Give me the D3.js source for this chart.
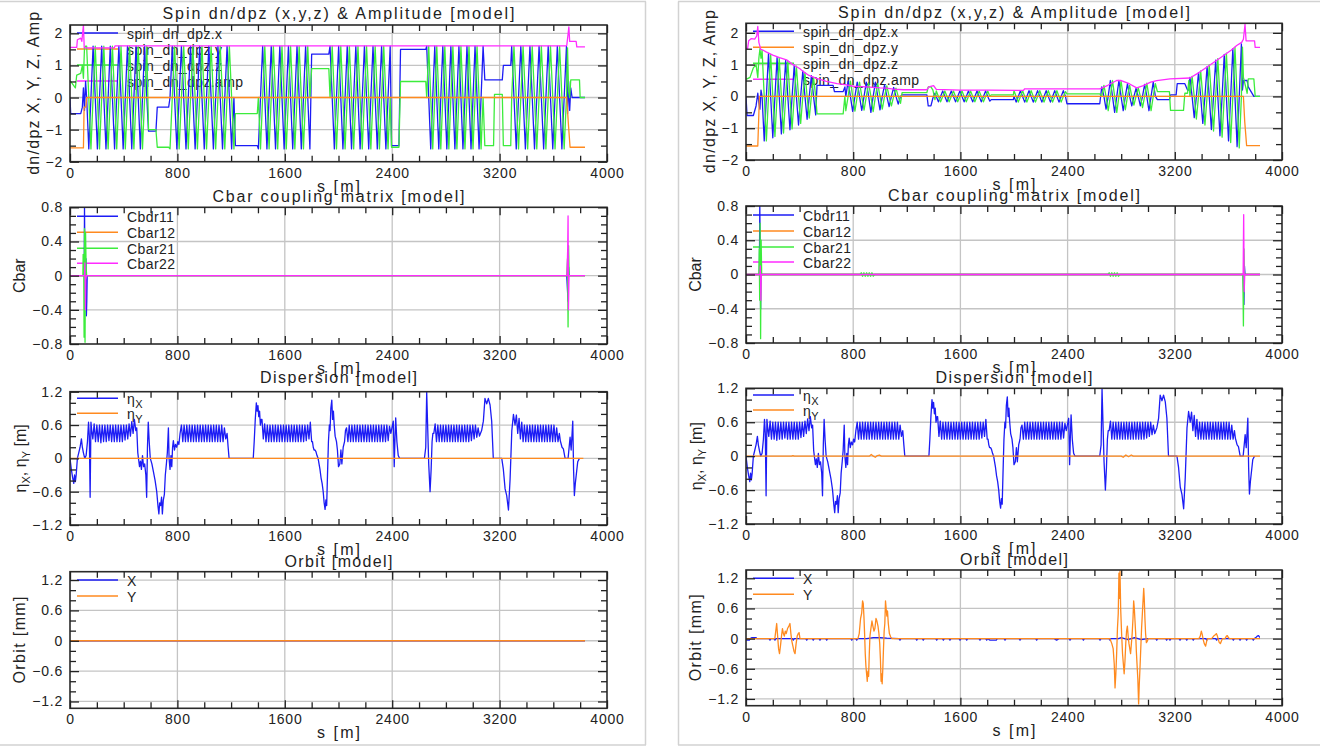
<!DOCTYPE html>
<html><head><meta charset="utf-8">
<script src="https://cdn.jsdelivr.net/npm/d3@7"></script>
<style>
html,body{margin:0;padding:0;background:#fff;}
svg{display:block;}
</style></head><body>
<svg id="c" width="1330" height="751"></svg>
<script>
// ---------------- tick / label data ----------------
const xMajor = [0,800,1600,2400,3200,4000];
const xMinor = [200,400,600,1000,1200,1400,1800,2000,2200,2600,2800,3000,3400,3600,3800];
const spinMajor = [-2,-1,0,1,2];
const spinMinor = [-1.5,-0.5,0.5,1.5];
const cbarMajor = [-0.8,-0.4,0,0.4,0.8];
const cbarMinor = [-0.7,-0.6,-0.5,-0.3,-0.2,-0.1,0.1,0.2,0.3,0.5,0.6,0.7];
const dispMajor = [-1.2,-0.6,0,0.6,1.2];
const dispMinor = [-1.0,-0.8,-0.4,-0.2,0.2,0.4,0.8,1.0];
const orbitMajor = [-1.2,-0.6,0,0.6,1.2];
const orbitMinor = [-1.0,-0.8,-0.4,-0.2,0.2,0.4,0.8,1.0];
const titles = ["Spin dn/dpz (x,y,z) & Amplitude [model]","Cbar coupling matrix [model]","Dispersion [model]","Orbit [model]"];
const spinLegend = ["spin_dn_dpz.x","spin_dn_dpz.y","spin_dn_dpz.z","spin_dn_dpz.amp"];
const cbarLegend = ["Cbdr11","Cbar12","Cbar21","Cbar22"];
const xTitle = "s [m]";

// ---------------- spin (left) rows: [s, x, z] ----------------
const spinL_xz = [
 [0,0,0.5],[5,-0.5,0.5],[40,-0.5,0.3],[50,-0.5,0.7],[80,-0.5,0.75],[92,-0.3,1.0],[100,0.3,0.6],[108,-0.4,1.55],[116,0.5,1.6],
 [124,0,1.6],[140,-1.6,0],[156,0,-1.6],[172,1.6,0],[188,0,1.6],[204,-1.6,0],[220,0,-1.6],[236,1.6,0],[252,0,1.6],[268,-1.6,0],[284,0,-1.6],[300,1.6,0],[316,0,1.6],[332,-1.6,0],[348,0,-1.6],[364,1.6,0],[380,0,1.6],[396,-1.6,0],[412,0,-1.6],[428,1.6,0],[444,0,1.6],[460,-1.6,0],[476,0,-1.6],[492,1.6,0],[508,0,1.6],[524,-1.6,0],[540,0,-1.6],[556,1.6,0],[572,0,1.6],
 [585,-1.05,-1.0],[640,-1.05,-1.0],[650,-0.3,-1.55],[735,-0.3,-1.55],
 [745,0,-1.6],[762,1.6,0],[779,0,1.6],[796,-1.6,0],[813,0,-1.6],[830,1.6,0],[847,0,1.6],[864,-1.6,0],[881,0,-1.6],[898,1.6,0],[915,0,1.6],[932,-1.6,0],[949,0,-1.6],[966,1.6,0],[983,0,1.6],[1000,-1.6,0],[1017,0,-1.6],[1034,1.6,0],[1051,0,1.6],[1068,-1.6,0],[1085,0,-1.6],[1102,1.6,0],[1119,0,1.6],[1136,-1.6,0],[1153,0,-1.6],[1170,1.6,0],[1187,0,1.6],[1204,-1.6,0],[1221,0,-1.6],
 [1232,-1.5,-0.5],[1395,-1.5,-0.5],
 [1403,-1.6,0],[1419,0,-1.6],[1435,1.6,0],[1451,0,1.6],[1467,-1.6,0],[1483,0,-1.6],[1499,1.6,0],[1515,0,1.6],[1531,-1.6,0],[1547,0,-1.6],[1563,1.6,0],[1579,0,1.6],[1595,-1.6,0],[1611,0,-1.6],[1627,1.6,0],[1643,0,1.6],[1659,-1.6,0],[1675,0,-1.6],[1691,1.6,0],[1707,0,1.6],[1723,-1.6,0],[1739,0,-1.6],[1755,1.6,0],[1771,0,1.6],[1787,-1.6,0],
 [1800,1.35,0.9],[1928,1.35,0.9],
 [1937,1.6,0],[1953,0,1.6],[1969,-1.6,0],[1985,0,-1.6],[2001,1.6,0],[2017,0,1.6],[2033,-1.6,0],[2049,0,-1.6],[2065,1.6,0],[2081,0,1.6],[2097,-1.6,0],[2113,0,-1.6],[2129,1.6,0],[2145,0,1.6],[2161,-1.6,0],[2177,0,-1.6],[2193,1.6,0],[2209,0,1.6],[2225,-1.6,0],[2241,0,-1.6],[2257,1.6,0],[2273,0,1.6],[2289,-1.6,0],[2305,0,-1.6],[2321,1.6,0],[2337,0,1.6],[2353,-1.6,0],[2369,0,-1.6],[2385,1.6,0],
 [2395,-1.5,-1.55],[2450,-1.5,-1.55],[2462,1.5,0.5],[2650,1.5,0.5],
 [2657,1.6,0],[2672,0,1.6],[2687,-1.6,0],[2702,0,-1.6],[2717,1.6,0],[2732,0,1.6],[2747,-1.6,0],[2762,0,-1.6],[2777,1.6,0],[2792,0,1.6],[2807,-1.6,0],[2822,0,-1.6],[2837,1.6,0],[2852,0,1.6],[2867,-1.6,0],[2882,0,-1.6],[2897,1.6,0],[2912,0,1.6],[2927,-1.6,0],[2942,0,-1.6],[2957,1.6,0],[2972,0,1.6],[2987,-1.6,0],[3002,0,-1.6],[3017,1.6,0],[3032,0,1.6],[3047,-1.6,0],[3062,0,-1.6],[3077,1.6,0],
 [3090,0.55,-1.5],[3155,0.55,-1.5],[3162,0.55,0.1],[3220,0.55,0.1],[3228,1.0,-1.5],[3283,1.0,-1.5],
 [3290,1.6,0],[3307,0,1.6],[3324,-1.6,0],[3341,0,-1.6],[3358,1.6,0],[3375,0,1.6],[3392,-1.6,0],[3409,0,-1.6],[3426,1.6,0],[3443,0,1.6],[3460,-1.6,0],[3477,0,-1.6],[3494,1.6,0],[3511,0,1.6],[3528,-1.6,0],[3545,0,-1.6],[3562,1.6,0],[3579,0,1.6],[3596,-1.6,0],[3613,0,-1.6],[3630,1.6,0],[3647,0,1.6],[3664,-1.6,0],[3681,0,-1.6],[3698,1.6,0],
 [3706,-0.5,1.55],[3714,0.5,0.2],[3722,-0.4,0],[3730,0.3,0.55],[3740,0,0.55],[3795,0,0.55],[3800,0,0],[3836,0,0]
];
const spinL_y = [[0,-1.57],[100,-1.57],[105,-0.3],[118,-0.3],[124,0],[3700,0],[3712,-0.8],[3725,-1.55],[3836,-1.55]];
const spinL_amp = [[0,1.56],[50,1.56],[55,1.8],[80,1.85],[88,1.75],[100,2.25],[106,1.55],[330,1.55],[336,1.61],[3690,1.61],[3700,1.62],[3708,1.9],[3716,2.2],[3722,1.75],[3770,1.75],[3775,1.58],[3836,1.58]];

// ---------------- spin (right) rows: [s, x, z] ----------------
const spinR_xz = [
 [0,0,0.55],[8,-0.6,0.55],[30,-0.6,0.6],[55,-0.6,0.9],[75,-0.3,1.0],[88,0.1,0.6],[96,-0.2,1.2],[104,-0.4,1.5],[112,0.2,1.2],
 [120,0,1.45],[136,-1.4,0],[152,0,-1.4],[168,1.35,0],[184,0,1.32],[200,-1.3,0],[216,0,-1.26],[232,1.22,0],[248,0,1.2],[264,-1.18,0],[280,0,-1.15],[296,1.13,0],[312,0,1.1],[328,-1.05,0],[344,0,-1.02],[360,0.98,0],[376,0,0.95],[392,-0.9,0],[408,0,-0.85],[424,0.8,0],[440,0,0.75],[456,-0.72,0],[472,0,-0.68],[488,0.65,0],[504,0,0.6],[520,-0.58,0],
 [530,0.35,-0.55],[650,0.35,-0.55],[660,0.15,-0.55],[725,0.15,-0.55],[738,0.3,0],
 [745,0,-0.45],[762,0.48,0],[779,0,0.48],[796,-0.47,0],[813,0,-0.46],[830,0.45,0],[847,0,0.45],[864,-0.44,0],[881,0,-0.43],[898,0.45,0],[915,0,0.42],[932,-0.5,0],[949,0,-0.48],[966,0.45,0],[983,0,0.4],[1000,-0.42,0],[1017,0,-0.4],[1034,0.36,0],[1051,0,0.33],[1068,-0.32,0],[1085,0,-0.3],[1102,0.28,0],[1119,0,0.26],[1136,-0.24,0],[1153,0,-0.22],
 [1165,0.05,0.12],[1350,0.05,0.12],[1360,-0.3,0.3],[1380,-0.3,0.3],[1395,-0.05,0.2],[1410,0.1,-0.1],
 [1420,0,0.17],[1436,-0.17,0],[1452,0,-0.17],[1468,0.17,0],[1484,0,0.17],[1500,-0.17,0],[1516,0,-0.17],[1532,0.17,0],[1548,0,0.17],[1564,-0.17,0],[1580,0,-0.17],[1596,0.17,0],[1612,0,0.17],[1628,-0.17,0],[1644,0,-0.17],[1660,0.17,0],[1676,0,0.17],[1692,-0.17,0],[1708,0,-0.17],[1724,0.17,0],[1740,0,0.17],[1756,-0.17,0],[1772,0,-0.17],[1788,0.17,0],[1804,0,0.17],[1820,-0.15,0],
 [1830,-0.1,0.05],[1995,-0.1,0.05],
 [2000,0,0.18],[2016,-0.18,0],[2032,0,-0.18],[2048,0.18,0],[2064,0,0.18],[2080,-0.18,0],[2096,0,-0.18],[2112,0.18,0],[2128,0,0.18],[2144,-0.18,0],[2160,0,-0.18],[2176,0.18,0],[2192,0,0.18],[2208,-0.18,0],[2224,0,-0.18],[2240,0.18,0],[2256,0,0.18],[2272,-0.18,0],[2288,0,-0.18],[2304,0.18,0],[2320,0,0.18],[2336,-0.18,0],[2352,0,-0.18],[2368,0.18,0],[2384,0,0.15],
 [2395,-0.23,0.08],[2640,-0.23,0.08],
 [2655,0.3,0],[2671,0,0.35],[2687,-0.4,0],[2703,0,-0.45],[2719,0.5,0],[2735,0,0.5],[2751,-0.5,0],[2767,0,-0.5],[2783,0.5,0],[2799,0,0.48],[2815,-0.45,0],[2831,0,-0.42],[2847,0.4,0],[2863,0,0.35],[2879,-0.3,0],[2895,0,-0.27],[2911,0.25,0],[2927,0,0.27],[2943,-0.3,0],[2959,0,-0.35],[2975,0.38,0],[2991,0,0.42],[3007,-0.45,0],[3023,0,-0.45],[3039,0.45,0],[3055,0,0.4],
 [3070,-0.1,0.15],[3160,-0.1,0.15],[3168,0.05,-0.44],[3210,0.05,-0.44],[3218,0.4,-0.44],[3265,0.4,-0.44],[3275,0.4,0.1],[3295,0.2,0.1],[3305,0.2,0.5],
 [3313,0.6,0],[3329,0,0.63],[3345,-0.67,0],[3361,0,-0.71],[3377,0.75,0],[3393,0,0.8],[3409,-0.85,0],[3425,0,-0.9],[3441,0.94,0],[3457,0,0.99],[3473,-1.04,0],[3489,0,-1.09],[3505,1.14,0],[3521,0,1.19],[3537,-1.24,0],[3553,0,-1.28],[3569,1.32,0],[3585,0,1.36],[3601,-1.4,0],[3617,0,-1.45],[3633,1.5,0],[3649,0,1.54],[3665,-1.58,0],[3681,0,-1.62],[3697,1.65,0],
 [3705,0.2,1.55],[3712,0.5,0.6],[3740,0.5,0.1],[3748,0.3,0.55],[3790,0,0.55],[3800,0,0],[3836,0,0]
];
const spinR_y = [[0,-1.56],[88,-1.56],[94,-0.8],[100,0],[3712,0],[3722,-0.8],[3736,-1.55],[3836,-1.55]];
const spinR_amp = [[0,1.51],[12,1.51],[20,1.75],[40,1.82],[65,1.8],[80,1.9],[88,2.2],[96,1.7],[110,1.48],[125,1.46],[150,1.4],[200,1.3],[250,1.22],[303,1.15],[350,1.0],[400,0.88],[428,0.78],[470,0.66],[527,0.57],[600,0.47],[680,0.4],[751,0.36],[800,0.32],[900,0.3],[1000,0.27],[1050,0.26],[1100,0.23],[1174,0.21],[1350,0.21],[1365,0.3],[1400,0.34],[1420,0.22],[1600,0.2],[1821,0.2],[2070,0.19],[2080,0.24],[2640,0.24],[2700,0.35],[2766,0.5],[2800,0.5],[2860,0.4],[2915,0.27],[2960,0.33],[3020,0.45],[3065,0.5],[3164,0.55],[3313,0.58],[3380,0.75],[3438,0.92],[3500,1.1],[3562,1.28],[3620,1.45],[3662,1.6],[3699,1.7],[3712,1.8],[3724,2.27],[3732,1.75],[3795,1.75],[3800,1.54],[3836,1.54]];

// ---------------- Cbar ----------------
const cbarL_11 = [[0,0],[106,0],[108,0.8],[110,0.4],[113,0.45],[116,-0.1],[119,0.2],[122,-0.47],[125,-0.3],[128,0],[3700,0],[3710,-0.3],[3714,0.1],[3718,0],[3836,0]];
const cbarL_12 = [[0,0],[106,0],[110,0.08],[114,-0.05],[118,0],[3836,0]];
const cbarL_21 = [[0,0],[96,0],[98,0.25],[102,0.2],[105,-0.72],[108,0.55],[112,-0.78],[116,0.5],[120,0.1],[124,0],[3700,0],[3706,0.2],[3710,-0.6],[3714,0.35],[3718,0],[3836,0]];
const cbarL_22 = [[0,0],[108,0],[111,0.15],[115,-0.4],[118,-0.05],[122,0],[3702,0],[3707,0.3],[3710,0.7],[3713,-0.4],[3717,0],[3836,0]];
const cbarR_11 = [[0,0],[100,0],[103,0.8],[106,0.3],[109,-0.4],[112,0.1],[115,0],[3710,0],[3716,-0.35],[3720,0.1],[3724,0],[3836,0]];
const cbarR_12 = [[0,0],[104,0],[108,0.06],[112,-0.04],[116,0],[3836,0]];
const cbarR_21 = [[0,0],[96,0],[99,0.3],[102,-0.3],[105,0.6],[109,-0.75],[113,0.4],[117,0],[850,0],[860,0.02],[870,-0.02],[880,0.02],[890,-0.02],[900,0.02],[910,-0.02],[920,0.02],[930,-0.02],[940,0.02],[950,-0.02],[960,0],[2700,0],[2710,0.02],[2720,-0.02],[2730,0.02],[2740,-0.02],[2750,0.02],[2760,-0.02],[2770,0.02],[2780,-0.02],[2790,0],[3708,0],[3712,-0.6],[3716,0.3],[3720,0],[3836,0]];
const cbarR_22 = [[0,0],[104,0],[107,0.1],[111,-0.3],[114,0],[3710,0],[3714,0.7],[3718,-0.2],[3722,0],[3836,0]];

// ---------------- Dispersion ----------------
const etaX = [
 [0,0],[10,-0.2],[20,-0.35],[28,-0.45],[34,-0.3],[40,-0.42],[46,-0.3],[55,0],[65,0.1],[75,0.2],[85,0.35],[92,0.2],[100,0.1],[110,0],[120,0.05],[130,0.3],[138,0.65],[144,0.4],[150,-0.7],[156,0.65],[162,0.5],
 [170,0.35],[180,0.62],[190,0.3],[200,0.6],[210,0.3],[220,0.6],[230,0.28],[240,0.6],[250,0.3],[260,0.6],[270,0.3],[280,0.6],[290,0.32],[300,0.6],[310,0.3],[320,0.6],[330,0.3],[340,0.6],[350,0.3],[360,0.6],[370,0.3],[380,0.6],[390,0.3],[400,0.6],[410,0.33],[420,0.6],[430,0.35],[440,0.62],[450,0.4],[460,0.66],[470,0.45],[480,0.7],[490,0.5],
 [497,0.55],[505,0.1],[510,0],[518,-0.15],[525,-0.05],[532,-0.2],[540,0.05],[548,-0.15],[556,-0.1],[565,-0.3],[571,-0.7],[577,0.2],[583,0.65],[590,0.3],[598,0],[610,-0.1],[622,-0.25],[634,-0.4],[646,-0.6],[655,-0.85],[662,-1.0],[668,-0.8],[675,-0.85],[682,-0.7],[688,-1.0],[695,-0.75],[703,-0.65],[710,-0.3],[718,-0.1],[725,0.1],[733,0.55],[738,0],[745,-0.2],[752,0.05],[758,-0.15],[764,0.2],[770,0.32],[778,0.15],[786,0.25],[795,0.2],[803,0.3],[811,0.25],
 [820,0.45],[830,0.6],[840,0.3],[850,0.6],[860,0.3],[870,0.6],[880,0.3],[890,0.6],[900,0.3],[910,0.6],[920,0.3],[930,0.6],[940,0.3],[950,0.6],[960,0.3],[970,0.6],[980,0.3],[990,0.6],[1000,0.3],[1010,0.6],[1020,0.3],[1030,0.6],[1040,0.3],[1050,0.6],[1060,0.3],[1070,0.6],[1080,0.3],[1090,0.6],[1100,0.3],[1110,0.6],[1120,0.3],[1130,0.6],[1140,0.3],[1150,0.55],[1160,0.35],[1170,0.45],
 [1178,0.2],[1185,0],[1365,0],[1372,0.3],[1380,0.7],[1388,1.0],[1394,0.85],[1400,0.95],[1406,0.75],[1412,0.85],[1418,0.6],[1425,0.7],
 [1430,0.7],[1440,0.35],[1450,0.62],[1460,0.3],[1470,0.6],[1480,0.3],[1490,0.6],[1500,0.3],[1510,0.6],[1520,0.3],[1530,0.6],[1540,0.3],[1550,0.6],[1560,0.3],[1570,0.6],[1580,0.3],[1590,0.6],[1600,0.3],[1610,0.6],[1620,0.3],[1630,0.6],[1640,0.3],[1650,0.6],[1660,0.3],[1670,0.6],[1680,0.3],[1690,0.6],[1700,0.3],[1710,0.6],[1720,0.3],[1730,0.6],[1740,0.3],[1750,0.6],[1760,0.32],[1770,0.6],[1780,0.35],[1790,0.65],
 [1800,0.3],[1806,0.3],[1812,0.2],[1818,0.15],[1825,0.15],[1832,0.12],[1840,0.05],[1848,0],[1855,-0.1],[1862,-0.2],[1870,-0.35],[1878,-0.45],[1886,-0.6],[1893,-0.8],[1900,-0.92],[1906,-0.75],[1912,-0.85],[1918,-0.3],[1925,0.3],[1932,0.6],[1937,0.5],[1943,0.9],[1950,1.05],[1956,0.7],[1962,0.85],[1968,0.6],[1975,0.4],[1985,0.3],[1992,0.15],[2000,-0.15],[2010,-0.1],[2018,0.15],[2025,-0.1],[2035,0.2],[2045,0.3],[2052,0.5],
 [2060,0.55],[2070,0.3],[2080,0.6],[2090,0.3],[2100,0.6],[2110,0.3],[2120,0.6],[2130,0.3],[2140,0.6],[2150,0.3],[2160,0.6],[2170,0.3],[2180,0.6],[2190,0.3],[2200,0.6],[2210,0.3],[2220,0.6],[2230,0.3],[2240,0.6],[2250,0.3],[2260,0.6],[2270,0.3],[2280,0.6],[2290,0.3],[2300,0.6],[2310,0.3],[2320,0.6],[2330,0.3],[2340,0.6],[2350,0.3],[2360,0.6],[2370,0.32],[2380,0.58],[2390,0.45],
 [2398,0.55],[2408,0.67],[2415,-0.15],[2420,0.3],[2426,0.73],[2435,0.3],[2445,0.05],[2455,0],[2640,0],[2650,0.2],[2657,1.19],[2665,0.5],[2672,-0.1],[2682,-0.6],[2690,-0.2],[2697,0.3],[2703,0.45],
 [2710,0.45],[2720,0.62],[2730,0.3],[2740,0.6],[2750,0.3],[2760,0.6],[2770,0.3],[2780,0.6],[2790,0.3],[2800,0.6],[2810,0.3],[2820,0.6],[2830,0.3],[2840,0.6],[2850,0.3],[2860,0.6],[2870,0.3],[2880,0.6],[2890,0.3],[2900,0.6],[2910,0.3],[2920,0.6],[2930,0.3],[2940,0.6],[2950,0.3],[2960,0.6],[2970,0.3],[2980,0.6],[2990,0.32],[3000,0.6],[3010,0.35],[3020,0.6],[3030,0.38],[3040,0.55],[3050,0.4],
 [3058,0.45],[3066,0.5],[3079,0.67],[3091,1.08],[3104,0.98],[3116,1.08],[3129,0.96],[3141,0.67],[3153,0],[3216,0],[3228,-0.2],[3241,-0.55],[3253,-0.67],[3266,-0.93],[3278,-0.38],[3291,0.5],[3303,0.79],
 [3315,0.6],[3325,0.78],[3335,0.45],[3345,0.72],[3355,0.35],[3365,0.65],[3375,0.3],[3385,0.6],[3395,0.3],[3405,0.6],[3415,0.3],[3425,0.6],[3435,0.3],[3445,0.6],[3455,0.3],[3465,0.6],[3475,0.3],[3485,0.6],[3495,0.3],[3505,0.6],[3515,0.3],[3525,0.6],[3535,0.3],[3545,0.6],[3555,0.3],[3565,0.6],[3575,0.3],[3585,0.6],[3595,0.3],[3605,0.6],[3615,0.3],[3625,0.55],[3635,0.3],[3645,0.45],
 [3652,0.32],[3665,0.2],[3675,0.17],[3688,0],[3710,0],[3718,0.2],[3725,0.38],[3733,0.15],[3740,0.45],[3745,0.67],[3751,-0.2],[3757,-0.67],[3764,-0.45],[3770,-0.32],[3782,-0.06],[3795,0]
];
const etaY_L = [[0,0],[3824,0]];
const etaY_R = [[0,0],[340,0],[350,0.01],[360,0],[920,0],[935,0.03],[950,0],[965,-0.02],[980,0.01],[995,0.02],[1010,0],[2800,0],[2815,-0.02],[2835,0.02],[2855,-0.01],[2875,0.02],[2890,0],[3836,0]];

// ---------------- Orbit ----------------
const orbitL_x = [[0,0],[3836,0]];
const orbitL_y = [[0,0],[3836,0]];
const orbitR_x = [[0,-0.03],[25,-0.03],[32,0],[45,0.02],[75,0.02],[82,0],[172,0],[179,-0.03],[186,0],[209,0],[216,-0.03],[223,0],[346,0],[353,-0.03],[360,0],[446,0],[453,-0.03],[460,0],[495,0],[502,-0.03],[509,0],[545,0],[552,-0.03],[559,0],[595,0],[602,-0.03],[609,0],[782,0],[789,-0.03],[796,0],[819,0],[826,-0.03],[833,0],[900,0],[950,0.02],[1000,0.02],[1050,0.01],[1142,0],[1149,-0.03],[1156,0],[1267,0],[1274,-0.03],[1281,0],[1316,0],[1323,-0.03],[1330,0],[1416,0],[1423,-0.03],[1430,0],[1466,0],[1473,-0.03],[1480,0],[1515,0],[1522,-0.03],[1529,0],[1590,0],[1597,-0.03],[1604,0],[1640,0],[1647,-0.03],[1654,0],[1739,0],[1746,-0.03],[1753,0],[1789,0],[1796,-0.03],[1803,0],[1821,-0.03],[1868,-0.03],[1875,0],[1926,0],[1933,-0.03],[1940,0],[2038,0],[2045,-0.03],[2052,0],[2162,0],[2169,-0.03],[2176,0],[2300,0],[2318,-0.03],[2335,0],[2411,0],[2418,-0.03],[2425,0],[2511,0],[2518,-0.03],[2525,0],[2635,0],[2642,-0.03],[2649,0],[2709,0],[2716,-0.03],[2723,0],[2780,0],[2800,0.02],[2850,-0.02],[2900,0.02],[2950,-0.02],[3000,0],[3058,0],[3065,-0.03],[3072,0],[3132,0],[3139,-0.03],[3146,0],[3157,0],[3164,-0.03],[3171,0],[3232,0],[3239,-0.03],[3246,0],[3282,0],[3289,-0.03],[3296,0],[3331,0],[3338,-0.03],[3345,0],[3431,0],[3438,-0.03],[3445,0],[3505,0],[3512,-0.03],[3519,0],[3630,0],[3637,-0.03],[3644,0],[3680,0],[3687,-0.03],[3694,0],[3729,0],[3736,-0.03],[3743,0],[3779,0],[3786,-0.03],[3793,0],[3805,0.02],[3815,0.05],[3825,0.06],[3833,0.03],[3836,0.03]];
const orbitR_y = [[0,0],[215,0],[222,0.15],[229,0.3],[236,0.05],[243,-0.2],[250,-0.3],[257,-0.15],[265,0.05],[272,0.2],[279,0.1],[286,0.05],[293,0.15],[300,0.1],[310,0.2],[320,0.25],[328,0.3],[335,0.1],[342,-0.05],[350,-0.15],[358,-0.25],[366,-0.3],[374,-0.1],[382,0.05],[390,0.1],[396,0.12],[403,0],[835,0],[845,0.1],[855,0.4],[863,0.5],[870,0.75],[875,0.7],[880,0.45],[885,0.1],[890,-0.3],[895,-0.55],[900,-0.7],[905,-0.85],[910,-0.65],[915,-0.75],[920,-0.3],[925,0.05],[932,0.2],[940,0.35],[947,0.25],[955,0.15],[962,0.2],[970,0.4],[977,0.35],[985,0.25],[992,0.1],[998,-0.1],[1003,-0.4],[1008,-0.85],[1012,-0.7],[1016,-0.9],[1021,-0.6],[1026,-0.2],[1031,0.15],[1036,0.3],[1041,0.75],[1046,0.6],[1051,0.45],[1056,0.55],[1062,0.3],[1070,0.1],[1080,0.03],[1090,0],[2715,0],[2730,-0.1],[2740,-0.2],[2748,-0.5],[2754,-0.98],[2760,-0.7],[2766,-0.3],[2772,0.2],[2778,0.5],[2783,1.3],[2788,0.8],[2791,1.35],[2796,0.6],[2803,0.1],[2810,-0.3],[2816,-0.5],[2822,-0.7],[2828,-0.45],[2834,-0.1],[2840,0.15],[2846,0.25],[2852,0.05],[2858,-0.1],[2864,-0.2],[2870,-0.3],[2876,-0.1],[2882,0.1],[2888,0.4],[2893,0.75],[2898,0.6],[2903,0.35],[2908,0.1],[2913,-0.25],[2918,-0.5],[2924,-0.8],[2930,-1.3],[2935,-0.9],[2940,-0.6],[2946,-0.2],[2952,0.2],[2958,0.5],[2962,0.7],[2968,1.0],[2972,0.8],[2977,0.4],[2982,0.1],[2988,-0.08],[2995,-0.05],[3002,0],[3380,0],[3390,0.05],[3398,0.15],[3405,0.08],[3412,-0.02],[3420,-0.1],[3430,-0.15],[3438,-0.05],[3446,0],[3475,0],[3490,0.05],[3500,0.07],[3510,0.1],[3518,0.05],[3525,-0.02],[3532,-0.08],[3540,-0.1],[3548,-0.05],[3555,0],[3575,0],[3585,0.05],[3592,0.06],[3600,0.02],[3608,0],[3836,0]];

// ---------------- drawing ----------------
const COL = {blue:"#1c1cf5", orange:"#ff8a1f", green:"#3cec3c", pink:"#ff2bff"};
const FONT = '"Liberation Sans", Arial, Helvetica, sans-serif';
const TXT = "#222";
const svg = d3.select("#c");
svg.append("rect").attr("width",1330).attr("height",751).attr("fill","#fff");
let clipN = 0;
const col = (rows,i)=>rows.map(r=>[r[0],r[i]]);
const fmt1 = v => v===0 ? "0" : d3.format(".1f")(v);
const fmt0 = d3.format("d");

function rich(t, parts){
  let shift = 0;
  parts.forEach(pt=>{
    const ts = t.append("tspan").text(pt.t);
    const want = pt.sub ? 4 : 0;
    if(want!==shift){ ts.attr("dy", want-shift); shift = want; }
    if(pt.sub) ts.attr("font-size", 11);
  });
}

function paneFrame(x0,x1){
  const g = svg.append("g").attr("stroke","#d2d2d2").attr("stroke-width",1.5);
  g.append("line").attr("x1",x0).attr("x2",x1).attr("y1",1.5).attr("y2",1.5);
  g.append("line").attr("x1",x0).attr("x2",x1).attr("y1",745).attr("y2",745);
}
paneFrame(0,646);
paneFrame(678,1320);
svg.append("line").attr("x1",645.5).attr("x2",645.5).attr("y1",1.5).attr("y2",745).attr("stroke","#d2d2d2").attr("stroke-width",1.5);
svg.append("line").attr("x1",678.5).attr("x2",678.5).attr("y1",1.5).attr("y2",745).attr("stroke","#d2d2d2").attr("stroke-width",1.5);

function drawPlot(p){
  const g = svg.append("g");
  const x = d3.scaleLinear().domain([0,4000]).range([p.x0,p.x1]);
  const y = d3.scaleLinear().domain(p.yDom).range([p.bottom,p.top]);
  const id = "clip"+(clipN++);
  svg.append("clipPath").attr("id",id).append("rect")
    .attr("x",p.x0).attr("y",p.top).attr("width",p.x1-p.x0).attr("height",p.bottom-p.top);
  g.selectAll(null).data(xMajor.filter(v=>v>0&&v<4000)).join("line")
    .attr("x1",d=>x(d)).attr("x2",d=>x(d)).attr("y1",p.top).attr("y2",p.bottom)
    .attr("stroke","#c4c4c4").attr("stroke-width",1.3);
  g.selectAll(null).data(p.yMajor.filter(v=>y(v)>p.top+1.5 && y(v)<p.bottom-1.5)).join("line")
    .attr("y1",d=>y(d)).attr("y2",d=>y(d)).attr("x1",p.x0).attr("x2",p.x1)
    .attr("stroke","#c4c4c4").attr("stroke-width",1.3);
  p.legend.forEach((L,i)=>{
    const ly = p.top + p.legY[i];
    g.append("line").attr("x1",p.x0+7).attr("x2",p.x0+48).attr("y1",ly).attr("y2",ly)
      .attr("stroke",L.color).attr("stroke-width",1.5);
    const t = g.append("text").attr("x",p.x0+57).attr("y",ly+6)
      .attr("font-family",FONT).attr("font-size",14).attr("fill",TXT).attr("letter-spacing",0.4);
    rich(t, L.parts);
  });
  const line = d3.line().x(d=>x(d[0])).y(d=>y(d[1]));
  const dg = g.append("g").attr("clip-path",`url(#${id})`);
  p.series.forEach(S=>{
    dg.append("path").attr("d",line(S.pts)).attr("fill","none")
      .attr("stroke",S.color).attr("stroke-width",1.3).attr("stroke-linejoin","round");
  });
  g.append("rect").attr("x",p.x0).attr("y",p.top).attr("width",p.x1-p.x0).attr("height",p.bottom-p.top)
    .attr("fill","none").attr("stroke","#2a2a2a").attr("stroke-width",1.6);
  const style = s=>{ s.select(".domain").remove(); s.attr("color",TXT).attr("font-family",FONT).attr("font-size",14);
    s.selectAll("line").attr("stroke-width",1.3); };
  g.append("g").attr("transform",`translate(0,${p.bottom})`)
    .call(d3.axisBottom(x).tickValues(xMajor).tickSize(-8).tickPadding(6).tickFormat(fmt0)).call(style)
    .selectAll("text").attr("letter-spacing",0.8);
  g.append("g").attr("transform",`translate(0,${p.bottom})`)
    .call(d3.axisBottom(x).tickValues(xMinor).tickSize(-6).tickFormat("")).call(style);
  g.append("g").attr("transform",`translate(0,${p.top})`)
    .call(d3.axisTop(x).tickValues(xMajor).tickSize(-8).tickFormat("")).call(style);
  g.append("g").attr("transform",`translate(0,${p.top})`)
    .call(d3.axisTop(x).tickValues(xMinor).tickSize(-6).tickFormat("")).call(style);
  g.append("g").attr("transform",`translate(${p.x0},0)`)
    .call(d3.axisLeft(y).tickValues(p.yMajor).tickSize(-9).tickPadding(7).tickFormat(p.yFmt)).call(style)
    .selectAll("text").attr("letter-spacing",0.8);
  g.append("g").attr("transform",`translate(${p.x0},0)`)
    .call(d3.axisLeft(y).tickValues(p.yMinor).tickSize(-6).tickFormat("")).call(style);
  g.append("g").attr("transform",`translate(${p.x1},0)`)
    .call(d3.axisRight(y).tickValues(p.yMajor).tickSize(-9).tickFormat("")).call(style);
  g.append("g").attr("transform",`translate(${p.x1},0)`)
    .call(d3.axisRight(y).tickValues(p.yMinor).tickSize(-6).tickFormat("")).call(style);
  const cx = (p.x0+p.x1)/2;
  g.append("text").attr("x",cx).attr("y",p.top-p.titleOff).attr("text-anchor","middle")
    .attr("font-family",FONT).attr("font-size",16).attr("fill",TXT)
    .attr("textLength",p.titleLen).attr("lengthAdjust","spacing").text(p.title);
  g.append("text").attr("x",cx).attr("y",p.bottom+30).attr("text-anchor","middle")
    .attr("font-family",FONT).attr("font-size",16).attr("fill",TXT)
    .attr("textLength",43).attr("lengthAdjust","spacing").text(xTitle);
  const yl = g.append("text").attr("transform",`translate(${p.ylab.x},${(p.top+p.bottom)/2}) rotate(-90)`)
    .attr("text-anchor","middle").attr("font-family",FONT).attr("font-size",16).attr("fill",TXT);
  if(p.ylab.len) yl.attr("textLength",p.ylab.len).attr("lengthAdjust","spacing");
  rich(yl, p.ylab.parts);
}

const panes = [
  {x0:70, x1:607, rows:[[25,161.7],[207.3,344],[391.7,525],[571.7,708.3]], titleOff:[6,5.6,8.4,5], spinTop:2.26, dx:0,
   spin:[spinL_xz,spinL_y,spinL_amp], cbar:[cbarL_11,cbarL_12,cbarL_21,cbarL_22], etaY:etaY_L, orbit:[orbitL_x,orbitL_y]},
  {x0:746, x1:1282, rows:[[23.3,160],[206,343],[388.3,524],[570,705.7]], titleOff:[5,5.5,5.6,5], spinTop:2.3, dx:676,
   spin:[spinR_xz,spinR_y,spinR_amp], cbar:[cbarR_11,cbarR_12,cbarR_21,cbarR_22], etaY:etaY_R, orbit:[orbitR_x,orbitR_y]}
];
const titleLens = [352,252,157,108];

panes.forEach(P=>{
  const base = {x0:P.x0, x1:P.x1};
  drawPlot(Object.assign({}, base, {
    top:P.rows[0][0], bottom:P.rows[0][1], yDom:[-2,P.spinTop], yMajor:spinMajor, yMinor:spinMinor, yFmt:fmt0,
    title:titles[0], titleLen:titleLens[0], titleOff:P.titleOff[0],
    ylab:{x:39+P.dx, len:163, parts:[{t:"dn/dpz X, Y, Z, Amp"}]},
    legY:[8,24,40,56],
    legend:[{color:COL.blue,parts:[{t:spinLegend[0]}]},{color:COL.orange,parts:[{t:spinLegend[1]}]},{color:COL.green,parts:[{t:spinLegend[2]}]},{color:COL.pink,parts:[{t:spinLegend[3]}]}],
    series:[{pts:col(P.spin[0],1),color:COL.blue},{pts:col(P.spin[0],2),color:COL.green},{pts:P.spin[1],color:COL.orange},{pts:P.spin[2],color:COL.pink}]
  }));
  drawPlot(Object.assign({}, base, {
    top:P.rows[1][0], bottom:P.rows[1][1], yDom:[-0.8,0.8], yMajor:cbarMajor, yMinor:cbarMinor, yFmt:fmt1,
    title:titles[1], titleLen:titleLens[1], titleOff:P.titleOff[1],
    ylab:{x:25+P.dx, parts:[{t:"Cbar"}]},
    legY:[9,25,41,56],
    legend:[{color:COL.blue,parts:[{t:cbarLegend[0]}]},{color:COL.orange,parts:[{t:cbarLegend[1]}]},{color:COL.green,parts:[{t:cbarLegend[2]}]},{color:COL.pink,parts:[{t:cbarLegend[3]}]}],
    series:[{pts:P.cbar[0],color:COL.blue},{pts:P.cbar[1],color:COL.orange},{pts:P.cbar[2],color:COL.green},{pts:P.cbar[3],color:COL.pink}]
  }));
  drawPlot(Object.assign({}, base, {
    top:P.rows[2][0], bottom:P.rows[2][1], yDom:[-1.2,1.2], yMajor:dispMajor, yMinor:dispMinor, yFmt:fmt1,
    title:titles[2], titleLen:titleLens[2], titleOff:P.titleOff[2],
    ylab:{x:26+P.dx, parts:[{t:"η"},{t:"X",sub:true},{t:", η"},{t:"Y",sub:true},{t:" [m]"}]},
    legY:[6.6,21.6],
    legend:[{color:COL.blue,parts:[{t:"η"},{t:"X",sub:true}]},{color:COL.orange,parts:[{t:"η"},{t:"Y",sub:true}]}],
    series:[{pts:etaX,color:COL.blue},{pts:P.etaY,color:COL.orange}]
  }));
  drawPlot(Object.assign({}, base, {
    top:P.rows[3][0], bottom:P.rows[3][1], yDom:[-1.335,1.365], yMajor:orbitMajor, yMinor:orbitMinor, yFmt:fmt1,
    title:titles[3], titleLen:titleLens[3], titleOff:P.titleOff[3],
    ylab:{x:25+P.dx, len:87, parts:[{t:"Orbit [mm]"}]},
    legY:[8.3,24.3],
    legend:[{color:COL.blue,parts:[{t:"X"}]},{color:COL.orange,parts:[{t:"Y"}]}],
    series:[{pts:P.orbit[0],color:COL.blue},{pts:P.orbit[1],color:COL.orange}]
  }));
});
</script>
</body></html>
